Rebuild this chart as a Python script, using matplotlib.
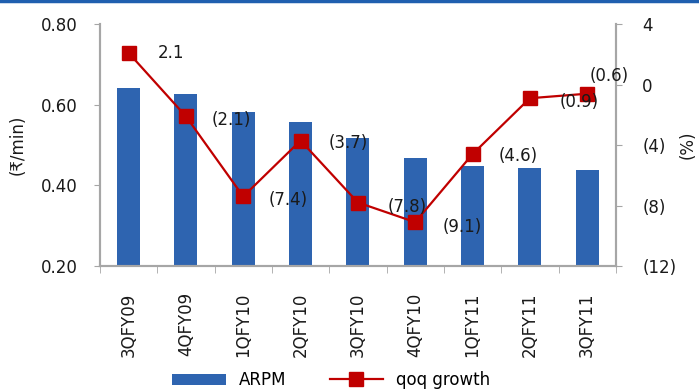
import numpy as np
import matplotlib.pyplot as plt
from matplotlib.lines import Line2D

quarters = ["3QFY09", "4QFY09", "1QFY10", "2QFY10", "3QFY10",
            "4QFY10", "1QFY11", "2QFY11", "3QFY11"]
arpm = [0.641, 0.626, 0.582, 0.557, 0.517, 0.467, 0.448, 0.443, 0.438]
qoq = [2.1, -2.1, -7.4, -3.7, -7.8, -9.1, -4.6, -0.9, -0.6]

bar_color = "#2E64B0"
line_color = "#C00000"
grey = "#A6A6A6"
txt = "#1a1a1a"

plt.rcParams["font.family"] = ["DejaVu Sans"]
plt.rcParams["font.size"] = 12

fig = plt.figure(figsize=(6.99, 3.90), dpi=100)
ax = fig.add_axes([0.143, 0.318, 0.738, 0.620])
x = np.arange(len(quarters))

bars = ax.bar(x, arpm, width=0.4, color=bar_color, label="ARPM", zorder=2)
ax.set_xlim(-0.5, len(quarters) - 0.5)
ax.set_ylim(0.2, 0.8)
ax.set_yticks([0.2, 0.4, 0.6, 0.8])
ax.set_yticklabels(["%.2f" % v for v in [0.2, 0.4, 0.6, 0.8]])
ax.set_ylabel("(₹/min)", color=txt, labelpad=10)

# category ticks: labels at the centres, tick marks between them
ax.set_xticks(x)
ax.set_xticklabels(quarters, rotation=90, color=txt)
ax.set_xticks(np.arange(-0.5, len(quarters)), minor=True)
ax.tick_params(axis="x", which="major", length=0, pad=19)
ax.tick_params(axis="x", which="minor", length=5, color=grey, direction="out")
ax.tick_params(axis="y", length=4, color=grey, pad=12, labelcolor=txt)

ax2 = ax.twinx()
line, = ax2.plot(x, qoq, color=line_color, lw=1.6, marker="s", ms=10,
                 label="qoq growth", zorder=3)
ax2.set_ylim(-12, 4)
rticks = [4, 0, -4, -8, -12]
ax2.set_yticks(rticks)
ax2.set_yticklabels([str(v) if v >= 0 else "(%d)" % -v for v in rticks])
ax2.tick_params(axis="y", length=4, color=grey, pad=15, labelcolor=txt)
ax2.set_ylabel("(%)", color=txt, labelpad=2)

for a in (ax, ax2):
    a.spines["top"].set_visible(False)
    for s in ("left", "right", "bottom"):
        a.spines[s].set_color(grey)
        a.spines[s].set_linewidth(1.5)

# data labels, mostly to the right of each marker
offsets = [(42, 0), (45, -4), (45, -4), (48, -2), (49, -4),
           (47, -5), (46, -2), (49, -4), (22, 18)]
for xi, v, (dx, dy) in zip(x, qoq, offsets):
    lab = "%.1f" % v if v >= 0 else "(%.1f)" % -v
    ax2.annotate(lab, (xi, v), xytext=(dx, dy), textcoords="offset pixels",
                 ha="center", va="center", color=txt, zorder=4)

fig.legend(handles=[bars, line], labels=["ARPM", "qoq growth"],
           loc="center", bbox_to_anchor=(0.474, 0.025), ncol=2, frameon=False,
           handlelength=3.2, columnspacing=2.6)

# thin rule across the top
fig.add_artist(Line2D([0, 1], [0.997, 0.997], color="#1F5FAF", lw=2.5,
                      transform=fig.transFigure))

fig.savefig("out.png", dpi=100)
